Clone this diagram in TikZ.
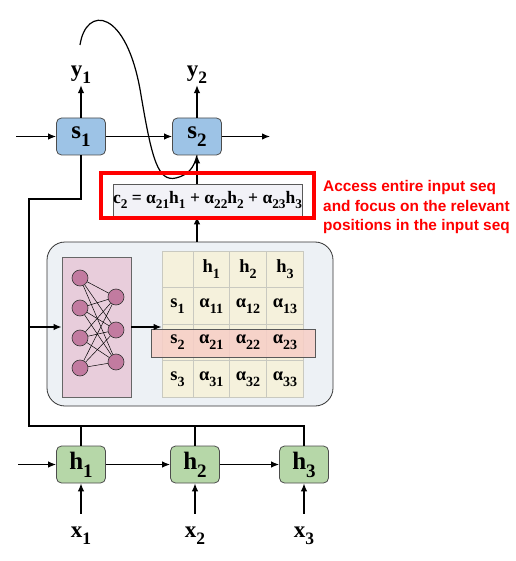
\documentclass[tikz,border=0pt]{standalone}
\usepackage{fontspec}
\newfontfamily\symfont{Liberation Serif}
\newfontfamily\notefont{Liberation Sans}
\usetikzlibrary{arrows.meta}
\definecolor{sblue}{HTML}{9DC3E6}
\definecolor{hgreen}{HTML}{B6D7A8}
\definecolor{attnbg}{HTML}{EDF1F5}
\definecolor{mlpbg}{HTML}{E8CDDB}
\definecolor{neuronfill}{HTML}{C27BA0}
\definecolor{cellbg}{HTML}{F5F1DC}
\definecolor{gridgray}{HTML}{C9C9C0}
\definecolor{bandbg}{HTML}{F7CEC6}
\definecolor{ctxbg}{HTML}{F2F2F7}
\definecolor{notered}{HTML}{FF0000}
\newcommand\sym[2]{#1\raisebox{-.32em}{\scalebox{.76}{#2}}}
\tikzset{
  rnncell/.style={rounded corners=5pt, draw=black!70, line width=0.8pt,
    minimum width=49pt, minimum height=37pt, inner sep=0pt,
    font=\symfont\bfseries\fontsize{25}{28}\selectfont},
  sbox/.style={rnncell, fill=sblue},
  hbox/.style={rnncell, fill=hgreen},
  io/.style={inner sep=1pt, font=\symfont\bfseries\fontsize{23}{26}\selectfont},
  conn/.style={line width=1.2pt, -{Latex[length=8pt,width=6.5pt]}},
  wire/.style={line width=1.2pt},
  neuron/.style={circle, draw=black!80, line width=0.6pt, fill=neuronfill,
    minimum size=16pt, inner sep=0pt},
  tcell/.style={draw=gridgray, line width=0.6pt, fill=cellbg,
    minimum height=36.5pt, inner sep=0pt},
  tlabel/.style={inner sep=0pt, font=\symfont\bfseries\fontsize{18.5}{21}\selectfont},
}
\begin{document}
\begin{tikzpicture}[x=1pt,y=-1pt]
\useasboundingbox (0,0) rectangle (515,561);
% decoder states
\node[sbox] (s1) at (81,136.5) {\sym{s}{1}};
\node[sbox] (s2) at (197,136.5) {\sym{s}{2}};
\coordinate (sin) at (16,136.5);
\coordinate (sout) at (270,136.5);
\node[io] (y1) at (81,75) {\sym{y}{1}};
\node[io] (y2) at (197,75) {\sym{y}{2}};
\draw[conn] (sin) -- (s1);
\draw[conn] (s1) -- (s2);
\draw[conn] (s2) -- (sout);
\draw[conn] (s1) -- (y1);
\draw[conn] (s2) -- (y2);
% encoder states
\node[hbox] (h1) at (81,464.5) {\sym{h}{1}};
\node[hbox] (h2) at (195,464.5) {\sym{h}{2}};
\node[hbox] (h3) at (304,464.5) {\sym{h}{3}};
\coordinate (hin) at (18,464.5);
\node[io] (x1) at (81,536) {\sym{x}{1}};
\node[io] (x2) at (195,536) {\sym{x}{2}};
\node[io] (x3) at (304,536) {\sym{x}{3}};
\draw[conn] (hin) -- (h1);
\draw[conn] (h1) -- (h2);
\draw[conn] (h2) -- (h3);
\foreach \i in {1,2,3}
  \draw[conn, shorten <=12pt] (x\i) -- (h\i);
% attention block
\node[draw=black!80, line width=0.8pt, fill=attnbg, rounded corners=18pt,
  minimum width=286pt, minimum height=164pt] (attn) at (190,324) {};
\node[draw=black!60, line width=0.8pt, fill=mlpbg,
  minimum width=69pt, minimum height=140pt] (mlp) at (96.5,327) {};
\foreach \j/\y in {1/278,2/308,3/338,4/368}
  \node[neuron] (in\j) at (80,\y) {};
\foreach \k/\y in {1/297,2/330,3/362}
  \node[neuron] (out\k) at (116,\y) {};
\foreach \j in {1,...,4}
  \foreach \k in {1,2,3}
    \draw[line width=0.5pt] (in\j) -- (out\k);
% alignment table
\foreach \r/\y in {0/269.3,1/305.8,2/342.3,3/378.8}
  \foreach \c/\x/\w in {0/177.5/31.4,1/211.3/36.2,2/248/37.4,3/285/36.6}
    \node[tcell, minimum width=\w pt] (t\r\c) at (\x,\y) {};
\node[draw=black!65, line width=0.8pt, fill=bandbg, fill opacity=0.85,
  minimum width=164pt, minimum height=28pt] (row2) at (233.7,343.3) {};
\foreach \c in {1,2,3}
  \node[tlabel] at (t0\c) {\sym{h}{\c}};
\foreach \r in {1,2,3}{
  \node[tlabel] at (t\r0) {\sym{s}{\r}};
  \foreach \c in {1,2,3}
    \node[tlabel] at (t\r\c) {\sym{α}{\r\c}};
}
% context vector
\node[draw=black!65, line width=0.8pt, fill=ctxbg, minimum width=189pt,
  minimum height=32pt, inner sep=0pt,
  font=\symfont\bfseries\fontsize{17.5}{20}\selectfont] (c2) at (207.5,200)
  {\sym{c}{2} = \sym{α}{21}\sym{h}{1} + \sym{α}{22}\sym{h}{2} + \sym{α}{23}\sym{h}{3}};
% connectors
\coordinate (bend) at (29,199);
\coordinate (busL) at (29,426);
\draw[wire] (s1.south) |- (bend) -- (busL) -| (h3.north);
\draw[wire] (h1.north) -- (h1.north |- busL);
\draw[wire] (h2.north) -- (h2.north |- busL);
\draw[conn] (bend |- mlp) -- (mlp.west);
\draw[conn] (mlp.east) -- (mlp.east -| t00.west);
\draw[conn] (attn.north -| s2) -- (c2.south -| s2);
\draw[conn] (c2.north -| s2) -- (s2.south);
\coordinate (ctop) at (80,45);
\draw[wire] (ctop) .. controls (86,5) and (127,8) .. (141,95)
  .. controls (152,160) and (158,182) .. (176,178)
  .. controls (188,175) and (194,168) .. (s2.south);
% highlight and note
\node[draw=notered, line width=3.5pt, minimum width=213pt,
  minimum height=45pt] (focus) at (207.5,195.5) {};
\node[anchor=west, align=left, inner sep=0pt, text=notered,
  font=\notefont\bfseries\fontsize{15.4}{19.5}\selectfont] (note) at (323,207.5)
  {Access entire input seq\\and focus on the relevant\\positions in the input seq};
\end{tikzpicture}
\end{document}
